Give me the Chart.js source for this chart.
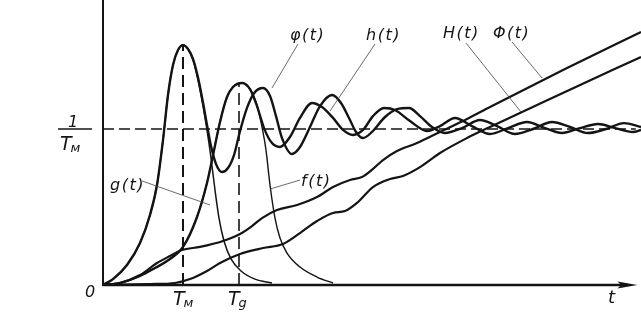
<!DOCTYPE html>
<html>
<head>
<meta charset="utf-8">
<script src="https://cdn.jsdelivr.net/npm/chart.js@4.4.0/dist/chart.umd.min.js"></script>
<style>
  html, body { margin: 0; background: #fff; }
  #wrap { width: 641px; height: 316px; }
</style>
</head>
<body>
<div id="wrap"><canvas id="chart"></canvas></div>
<script>
// time in units of T_M, densities in units of 1/T_M (integrals share the same axis)
const T_M = 1;
const T_G = 1.7;
const LEVEL = 1;       // 1/T_M
const X_MAX = 6.725;
const Y_MAX = 1.827;
const X_AXIS_END = 6.68;

// g(t) - pulse density with mean T_M
const tG = [0, .125, .30, .4625, .5875, .675, .75, .8125, .875, .9375, 1.0, 1.0625, 1.125, 1.1875, 1.25, 1.30, 1.35, 1.40, 1.45, 1.5125, 1.60, 1.725, 1.90, 2.1125];
const gVals = [0, .038, .128, .269, .449, .641, .929, 1.218, 1.41, 1.506, 1.538, 1.513, 1.442, 1.314, 1.147, .994, .814, .609, .429, .282, .167, .09, .038, .013];

// f(t) - density with mean T_g
const tF = [0, .2125, .4625, .65, .80, 1.0, 1.175, 1.30, 1.3625, 1.4625, 1.55, 1.625, 1.7375, 1.8375, 1.925, 1.9875, 2.0375, 2.0875, 2.15, 2.2125, 2.30, 2.4625, 2.675, 2.875];
const fVals = [0, .013, .058, .109, .154, .244, .436, .654, .801, 1.045, 1.205, 1.269, 1.295, 1.256, 1.154, 1.013, .865, .641, .429, .301, .205, .115, .051, .013];

// phi(t)
const tPhi = [0, .125, .30, .4625, .5875, .675, .75, .8125, .875, .9375, 1.0, 1.0625, 1.125, 1.1875, 1.25, 1.30, 1.35, 1.4125, 1.4875, 1.5625, 1.6375, 1.71, 1.80, 1.89, 2.0, 2.0875, 2.1625, 2.2375, 2.3625, 2.4625, 2.5875, 2.7125, 2.8625, 2.975, 3.075, 3.1625, 3.25, 3.3625, 3.525, 3.675, 3.825, 3.9625, 4.1125, 4.275, 4.4875, 4.7125, 4.925, 5.15, 5.375, 5.6125, 5.8375, 6.0625, 6.2875, 6.5125, 6.725];
const phiVals = [0, .038, .128, .269, .449, .641, .929, 1.218, 1.41, 1.506, 1.538, 1.513, 1.45, 1.33, 1.17, 1.026, .891, .776, .724, .75, .833, .981, 1.135, 1.231, 1.263, 1.212, 1.083, .942, .840, .885, 1.013, 1.147, 1.218, 1.167, 1.071, .981, .942, .981, 1.077, 1.128, 1.135, 1.083, 1.013, .974, 1.006, 1.058, 1.019, .968, 1.0, 1.045, 1.013, .974, 1.0, 1.038, 1.013];

// h(t)
const tH = [0, .2125, .4625, .65, .80, 1.0, 1.175, 1.30, 1.3625, 1.4625, 1.55, 1.625, 1.7375, 1.8375, 1.925, 2.0125, 2.1125, 2.2125, 2.3375, 2.4625, 2.6125, 2.7375, 2.875, 3.0, 3.125, 3.25, 3.375, 3.5125, 3.65, 3.8375, 4.05, 4.2125, 4.4, 4.6125, 4.8375, 5.0625, 5.3, 5.525, 5.7375, 5.9625, 6.1875, 6.4, 6.625, 6.725];
const hVals = [0, .013, .058, .109, .154, .244, .436, .654, .801, 1.045, 1.205, 1.269, 1.295, 1.256, 1.147, 1.006, .91, .885, .949, 1.071, 1.167, 1.141, 1.071, .994, .962, .994, 1.083, 1.135, 1.122, 1.051, .987, 1.019, 1.071, 1.019, .968, 1.006, 1.045, 1.006, .974, 1.006, 1.032, 1.006, .981, .994];

// Phi(t) = integral of phi
const tPhiInt = [0, .2125, .4625, .675, .8375, .9875, 1.2125, 1.5, 1.7125, 1.8625, 1.9875, 2.175, 2.425, 2.675, 2.875, 3.0875, 3.2375, 3.375, 3.5, 3.675, 3.925, 4.2125, 4.55, 4.8375, 5.775, 6.725];
const phiIntVals = [0, .013, .064, .141, .186, .224, .244, .282, .327, .378, .429, .481, .513, .564, .628, .673, .692, .744, .801, .859, .91, .981, 1.064, 1.141, 1.385, 1.622];

// H(t) = integral of h
const tHInt = [0, .5875, .9, 1.0875, 1.3, 1.4625, 1.7125, 2.0, 2.25, 2.4625, 2.675, 2.875, 3.025, 3.175, 3.375, 3.5875, 3.75, 3.9625, 4.2125, 4.55, 4.8375, 5.775, 6.725];
const hIntVals = [0, .006, .013, .038, .09, .141, .199, .237, .263, .333, .41, .462, .474, .526, .628, .679, .699, .756, .846, .942, 1.013, 1.237, 1.462];

const INK = '#141414';
const FONT = '"Liberation Sans Narrow", "DejaVu Sans", sans-serif';

// curve names with leader lines: text corner, leader start, leader end (data units)
const curveLabels = [
    { text: 'φ(t)', t: 2.3375, v: 1.571, from: [2.4375, 1.545], to: [2.1125, 1.263] },
    { text: 'h(t)', t: 3.2875, v: 1.571, from: [3.40, 1.545], to: [2.8375, 1.115] },
    { text: 'H(t)', t: 4.25, v: 1.583, from: [4.5375, 1.551], to: [5.225, 1.109] },
    { text: 'Φ(t)', t: 4.875, v: 1.583, from: [5.1125, 1.558], to: [5.4875, 1.327] },
    { text: 'g(t)', t: .0875, v: .609, from: [.4875, .667], to: [1.3375, .513] },
    { text: 'f(t)', t: 2.475, v: .635, from: [2.4625, .673], to: [2.0875, .615] }
];

const toPoints = (ts, vs) => ts.map((t, i) => ({ x: t, y: vs[i] }));

function curve(ts, vs, width) {
    return {
        data: toPoints(ts, vs),
        borderColor: INK,
        borderWidth: width,
        pointRadius: 0,
        cubicInterpolationMode: 'monotone',
        fill: false
    };
}

function dashed(points, width, dash) {
    return {
        data: points,
        borderColor: INK,
        borderWidth: width,
        borderDash: dash,
        pointRadius: 0,
        tension: 0,
        fill: false
    };
}

function subText(ctx, main, sub, x, y, size) {
    ctx.font = `italic ${size}px ${FONT}`;
    ctx.fillText(main, x, y);
    const w = ctx.measureText(main).width;
    ctx.font = `italic ${Math.round(size * 0.68)}px ${FONT}`;
    ctx.fillText(sub, x + w - 1, y + 2);
}

const axesAndLabels = {
    id: 'axesAndLabels',
    afterDatasetsDraw(chart) {
        const { ctx, chartArea, scales: { x, y } } = chart;
        const X = v => x.getPixelForValue(v);
        const Y = v => y.getPixelForValue(v);
        ctx.save();
        ctx.strokeStyle = INK;
        ctx.fillStyle = INK;

        // axes
        ctx.lineWidth = 2.6;
        ctx.beginPath();
        ctx.moveTo(X(0), Y(0));
        ctx.lineTo(X(X_AXIS_END) - 10, Y(0));
        ctx.stroke();
        ctx.lineWidth = 2;
        ctx.beginPath();
        ctx.moveTo(X(0), Y(0) + 1);
        ctx.lineTo(X(0), chartArea.top);
        ctx.stroke();
        const ax = X(X_AXIS_END), ay = Y(0);
        ctx.beginPath();
        ctx.moveTo(ax, ay);
        ctx.lineTo(ax - 20, ay - 3.5);
        ctx.lineTo(ax - 16, ay);
        ctx.lineTo(ax - 20, ay + 3.5);
        ctx.closePath();
        ctx.fill();

        // leaders
        ctx.lineWidth = 0.8;
        ctx.strokeStyle = '#444';
        curveLabels.forEach(l => {
            ctx.beginPath();
            ctx.moveTo(X(l.from[0]), Y(l.from[1]));
            ctx.lineTo(X(l.to[0]), Y(l.to[1]));
            ctx.stroke();
        });

        ctx.textBaseline = 'alphabetic';
        ctx.letterSpacing = '1.5px';
        ctx.font = `italic 16px ${FONT}`;
        curveLabels.forEach(l => ctx.fillText(l.text, X(l.t), Y(l.v)));

        // axis marks
        ctx.letterSpacing = '0px';
        ctx.font = `italic 16px ${FONT}`;
        ctx.fillText('0', X(-0.225), Y(-0.077));
        ctx.font = `italic 18px ${FONT}`;
        ctx.fillText('t', X(6.3125), Y(-0.115));
        subText(ctx, 'T', 'м', X(T_M - 0.125), Y(-0.128), 19);
        subText(ctx, 'T', 'g', X(T_G - 0.1375), Y(-0.128), 19);

        // 1 / T_M
        ctx.font = `italic 16px ${FONT}`;
        ctx.fillText('1', X(-0.4375), Y(LEVEL + 0.013));
        ctx.lineWidth = 1.3;
        ctx.strokeStyle = INK;
        ctx.beginPath();
        ctx.moveTo(X(-0.5625), Y(LEVEL));
        ctx.lineTo(X(-0.1375), Y(LEVEL));
        ctx.stroke();
        subText(ctx, 'T', 'м', X(-0.5375), Y(0.865), 19);
        ctx.restore();
    }
};

new Chart(document.getElementById('chart'), {
    type: 'line',
    data: {
        datasets: [
            curve(tG, gVals, 1.5),
            curve(tF, fVals, 1.4),
            curve(tPhi, phiVals, 2.4),
            curve(tH, hVals, 2.4),
            curve(tPhiInt, phiIntVals, 2.2),
            curve(tHInt, hIntVals, 2.2),
            dashed([{ x: 0, y: LEVEL }, { x: 6.66, y: LEVEL }], 1.6, [11, 5]),
            dashed([{ x: T_M, y: 0 }, { x: T_M, y: 1.538 }], 2, [12, 6]),
            dashed([{ x: T_G, y: 0 }, { x: T_G, y: 1.29 }], 1.6, [12, 6])
        ]
    },
    options: {
        responsive: true,
        maintainAspectRatio: false,
        animation: false,
        layout: { padding: { left: 103, right: 0, top: 0, bottom: 31 } },
        plugins: { legend: { display: false }, tooltip: { enabled: false } },
        scales: {
            x: { type: 'linear', min: 0, max: X_MAX, display: false },
            y: { type: 'linear', min: 0, max: Y_MAX, display: false }
        }
    },
    plugins: [axesAndLabels]
});
</script>
</body>
</html>
